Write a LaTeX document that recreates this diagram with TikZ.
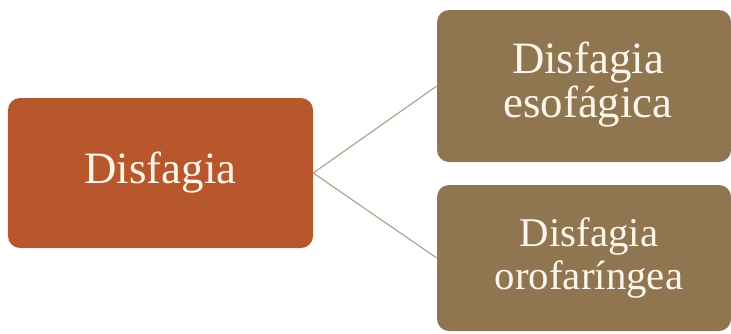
\documentclass[tikz,border=0pt]{standalone}
\usepackage{fontspec}
\setmainfont{Liberation Serif}
\definecolor{rootfill}{HTML}{B9572C}
\definecolor{leaffill}{HTML}{8F7651}
\definecolor{linkcol}{HTML}{ABA088}
\definecolor{labelcol}{HTML}{FCF6EA}
\begin{document}
\begin{tikzpicture}[x=1bp,y=-1bp,
  box/.style={rounded corners=12bp, inner sep=0pt},
  caption/.style={inner sep=0pt, text=labelcol, align=center},
  big/.style={font=\fontsize{45}{45}\selectfont},
  small/.style={font=\fontsize{41}{44}\selectfont},
  link/.style={draw=linkcol, line width=1.1bp}]
\useasboundingbox (0,0) rectangle (731,333);
% root box and its two branches
\node[box, fill=rootfill, minimum width=305bp, minimum height=150bp] (root) at (160.5,173) {};
\node[box, fill=leaffill, minimum width=294bp, minimum height=152bp] (eso) at (584,86) {};
\node[box, fill=leaffill, minimum width=294bp, minimum height=146bp] (oro) at (584,258) {};
% captions
\node[caption, big] (rootlabel) at (root.center) {Disfagia};
\node[caption, big] (esolabel) at ([xshift=4bp,yshift=1.5bp]eso.center) {Disfagia\\esofágica};
\node[caption, small] (orolabel) at ([xshift=5bp,yshift=0bp]oro.center) {Disfagia\\orofaríngea};
% connectors
\draw[link] (root.east) -- (eso.west);
\draw[link] (root.east) -- (oro.west);
\end{tikzpicture}
\end{document}
